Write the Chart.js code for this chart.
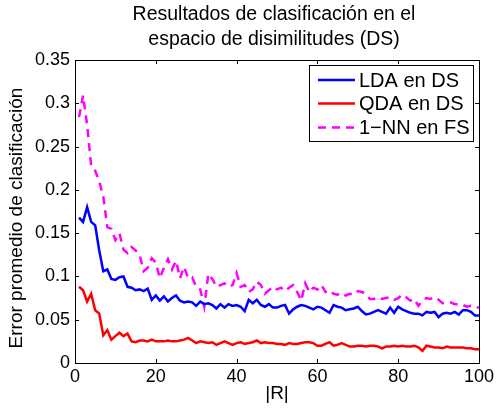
<!DOCTYPE html>
<html><head><meta charset="utf-8">
<script src="https://cdn.jsdelivr.net/npm/chart.js@4"></script>
<style>html,body{margin:0;padding:0;background:#fff;}canvas{display:block;}</style>
</head><body>
<canvas id="c" width="497" height="410"></canvas>
<script>
const titleLines = ["Resultados de clasificación en el", "espacio de disimilitudes (DS)"];
const xTitle = "|R|";
const yTitle = "Error promedio de clasificación";
const seriesNames = ["LDA en DS", "QDA en DS", "1\u2212NN en FS"];
const rValues = Array.from({length: 100}, (_, i) => i + 1);
const xTicks = [0, 20, 40, 60, 80, 100];
const yTicks = [0, 0.05, 0.1, 0.15, 0.2, 0.25, 0.3, 0.35];

const ldaDS = [0.168,0.163,0.180,0.163,0.159,0.130,0.106,0.108,0.097,0.096,
0.099,0.100,0.088,0.087,0.084,0.085,0.083,0.086,0.073,0.078,
0.072,0.077,0.071,0.075,0.078,0.072,0.070,0.071,0.070,0.066,
0.071,0.068,0.069,0.067,0.063,0.068,0.064,0.068,0.066,0.067,
0.065,0.060,0.073,0.069,0.073,0.067,0.065,0.068,0.064,0.064,
0.066,0.067,0.057,0.062,0.065,0.067,0.066,0.064,0.062,0.065,
0.064,0.061,0.058,0.067,0.065,0.064,0.061,0.062,0.063,0.065,
0.060,0.056,0.057,0.059,0.061,0.059,0.057,0.064,0.058,0.065,
0.062,0.060,0.058,0.057,0.057,0.055,0.059,0.058,0.059,0.053,
0.057,0.058,0.057,0.059,0.056,0.061,0.061,0.059,0.055,0.055];

const qdaDS = [0.088,0.084,0.071,0.080,0.061,0.057,0.032,0.038,0.027,0.031,
0.035,0.031,0.034,0.025,0.024,0.026,0.026,0.025,0.027,0.025,
0.025,0.025,0.026,0.025,0.025,0.026,0.027,0.029,0.026,0.023,
0.025,0.024,0.023,0.024,0.021,0.023,0.025,0.023,0.021,0.023,
0.024,0.022,0.023,0.024,0.026,0.023,0.024,0.023,0.023,0.022,
0.022,0.021,0.023,0.022,0.022,0.023,0.024,0.024,0.023,0.020,
0.020,0.022,0.024,0.020,0.021,0.023,0.021,0.019,0.019,0.020,
0.020,0.019,0.020,0.020,0.019,0.017,0.019,0.019,0.020,0.019,
0.020,0.019,0.019,0.020,0.018,0.014,0.020,0.019,0.018,0.018,
0.017,0.019,0.018,0.018,0.018,0.018,0.017,0.017,0.016,0.016];

const nnFS = [0.284,0.309,0.275,0.228,0.222,0.210,0.192,0.157,0.155,0.142,
0.150,0.131,0.127,0.134,0.130,0.125,0.106,0.110,0.121,0.116,
0.098,0.110,0.120,0.108,0.118,0.098,0.111,0.098,0.099,0.088,
0.085,0.065,0.103,0.097,0.088,0.090,0.092,0.088,0.090,0.104,
0.088,0.090,0.082,0.085,0.094,0.090,0.080,0.084,0.088,0.085,
0.087,0.083,0.087,0.090,0.082,0.072,0.092,0.082,0.087,0.085,
0.090,0.082,0.084,0.080,0.079,0.081,0.078,0.080,0.079,0.083,
0.082,0.080,0.074,0.074,0.076,0.074,0.075,0.076,0.073,0.075,
0.079,0.076,0.072,0.074,0.066,0.072,0.075,0.074,0.076,0.073,
0.069,0.070,0.070,0.068,0.068,0.067,0.065,0.066,0.064,0.064];

const FONT = "'Liberation Sans', Arial, Helvetica, sans-serif";
const pts = arr => rValues.map((r, i) => ({x: r, y: arr[i]}));

const decor = {
  id: 'decor',
  afterDraw(chart) {
    const ctx = chart.ctx, a = chart.chartArea;
    const xs = chart.scales.x, ys = chart.scales.y;
    ctx.save();
    ctx.strokeStyle = '#000'; ctx.lineWidth = 1;
    ctx.strokeRect(Math.round(a.left) + 0.5, Math.round(a.top) + 0.5,
                   Math.round(a.right - a.left), Math.round(a.bottom - a.top));
    const tl = 4;
    ctx.beginPath();
    xTicks.forEach(v => {
      const px = Math.round(xs.getPixelForValue(v)) + 0.5;
      ctx.moveTo(px, a.bottom); ctx.lineTo(px, a.bottom - tl);
      ctx.moveTo(px, a.top); ctx.lineTo(px, a.top + tl);
    });
    yTicks.forEach(v => {
      const py = Math.round(ys.getPixelForValue(v)) + 0.5;
      ctx.moveTo(a.left, py); ctx.lineTo(a.left + tl, py);
      ctx.moveTo(a.right, py); ctx.lineTo(a.right - tl, py);
    });
    ctx.stroke();
    ctx.fillStyle = '#000';
    ctx.font = '19.5px ' + FONT;
    ctx.textAlign = 'center'; ctx.textBaseline = 'middle';
    ctx.fillText(titleLines[0], 274, 15);
    ctx.fillText(titleLines[1], 274, 40);
    ctx.font = '19px ' + FONT;
    ctx.fillText(xTitle, 277, 394);
    ctx.save();
    ctx.translate(17, 218);
    ctx.rotate(-Math.PI / 2);
    ctx.fillText(yTitle, 0, 0);
    ctx.restore();
    const lx = 309.5, ly = 65.5, lw = 164, lh = 76;
    ctx.fillStyle = '#fff';
    ctx.fillRect(lx, ly, lw, lh);
    ctx.strokeStyle = '#000'; ctx.lineWidth = 1;
    ctx.strokeRect(lx, ly, lw, lh);
    const rows = [80, 103.5, 127.5];
    chart.data.datasets.forEach((ds, i) => {
      ctx.strokeStyle = ds.borderColor; ctx.lineWidth = 2.5;
      ctx.setLineDash(ds.borderDash || []);
      ctx.beginPath(); ctx.moveTo(318, rows[i]); ctx.lineTo(355, rows[i]); ctx.stroke();
      ctx.setLineDash([]);
      ctx.fillStyle = '#000'; ctx.textAlign = 'left'; ctx.font = '20px ' + FONT;
      ctx.fillText(ds.label, 359, rows[i] + 1);
    });
    ctx.restore();
  }
};

new Chart(document.getElementById('c'), {
  type: 'line',
  data: {
    datasets: [
      {label: seriesNames[0], data: pts(ldaDS), borderColor: '#0000ff', borderWidth: 2.5, pointRadius: 0, tension: 0, fill: false},
      {label: seriesNames[1], data: pts(qdaDS), borderColor: '#ff0000', borderWidth: 2.5, pointRadius: 0, tension: 0, fill: false},
      {label: seriesNames[2], data: pts(nnFS), borderColor: '#ff00ff', borderWidth: 2.5, borderDash: [8, 6], pointRadius: 0, tension: 0, fill: false}
    ]
  },
  options: {
    responsive: false,
    animation: false,
    devicePixelRatio: 1,
    layout: {padding: {top: 60, right: 18, left: 0, bottom: 0}},
    plugins: {legend: {display: false}, title: {display: false}, tooltip: {enabled: false}},
    scales: {
      x: {
        type: 'linear', min: 0, max: 100,
        afterFit: s => { s.height = 47; },
        afterBuildTicks: s => { s.ticks = xTicks.map(v => ({value: v})); },
        grid: {display: false, drawTicks: false},
        border: {display: false},
        ticks: {color: '#000', font: {family: FONT, size: 18}, padding: 3, maxRotation: 0}
      },
      y: {
        type: 'linear', min: 0, max: 0.35,
        afterFit: s => { s.width = 75; },
        afterBuildTicks: s => { s.ticks = yTicks.map(v => ({value: v})); },
        grid: {display: false, drawTicks: false},
        border: {display: false},
        ticks: {color: '#000', font: {family: FONT, size: 18}, padding: 5,
                callback: v => String(Number(v.toFixed(2)))}
      }
    }
  },
  plugins: [decor]
});
</script>
</body></html>
